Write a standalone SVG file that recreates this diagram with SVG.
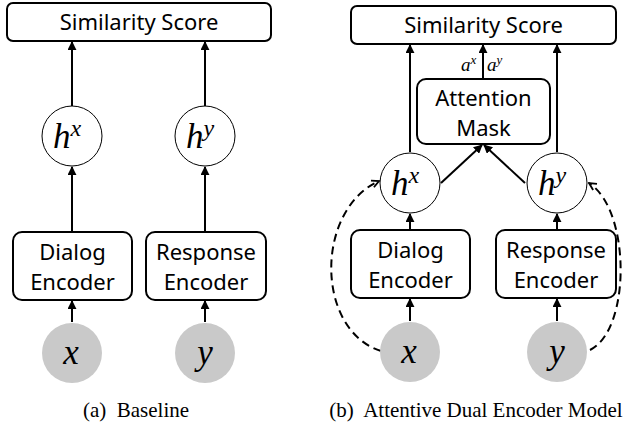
<svg xmlns="http://www.w3.org/2000/svg" width="623" height="423" viewBox="0 0 623 423">
<style>
.box{fill:#fff;stroke:#000;stroke-width:2}
.hc{fill:#fff;stroke:#000;stroke-width:1}
.gc{fill:#c9c9c9;stroke:none}
.lbl{font-family:"Noto Sans",sans-serif;font-size:22px;text-anchor:middle;fill:#000}
.math{font-family:"Liberation Serif",serif;font-style:italic;fill:#000}
.cap{font-family:"Liberation Serif",serif;font-size:21px;text-anchor:middle;fill:#000}
.ar{stroke:#000;stroke-width:2;fill:none;marker-end:url(#ah)}
.da{stroke:#000;stroke-width:2;fill:none;stroke-dasharray:8 5;marker-end:url(#oh)}
</style>
<defs>
<marker id="ah" viewBox="0 0 10 10" refX="9" refY="5" markerWidth="4.5" markerHeight="4.5" orient="auto" markerUnits="strokeWidth">
<path d="M0,0 L10,5 L0,10 z" fill="#000"/>
</marker>
<marker id="oh" viewBox="0 0 10 10" refX="9" refY="5" markerWidth="4.5" markerHeight="4.5" orient="auto" markerUnits="strokeWidth">
<path d="M1,1 L9,5 L1,9" fill="none" stroke="#000" stroke-width="2"/>
</marker>
</defs>
<rect width="623" height="423" fill="#fff"/>

<g id="connectors">
<line class="ar" x1="72" y1="106" x2="72" y2="42"/>
<line class="ar" x1="205" y1="106" x2="205" y2="42"/>
<line class="ar" x1="72" y1="231" x2="72" y2="167"/>
<line class="ar" x1="205" y1="231" x2="205" y2="167"/>
<line class="ar" x1="72" y1="322" x2="72" y2="301"/>
<line class="ar" x1="205" y1="322" x2="205" y2="301"/>

<line class="ar" x1="410" y1="152" x2="410" y2="45"/>
<line class="ar" x1="483" y1="78" x2="483" y2="45"/>
<line class="ar" x1="557" y1="152" x2="557" y2="45"/>
<line class="ar" x1="441" y1="183" x2="482" y2="145"/>
<line class="ar" x1="525" y1="183" x2="484" y2="145"/>
<line class="ar" x1="410" y1="229" x2="410" y2="214"/>
<line class="ar" x1="557" y1="229" x2="557" y2="214"/>
<line class="ar" x1="410" y1="321" x2="410" y2="299"/>
<line class="ar" x1="557" y1="321" x2="557" y2="299"/>
<path class="da" d="M381,351 C315,330 315,210 379,181"/>
<path class="da" d="M590,350 C631,330 631,210 589,183"/>
<text class="math" x="461" y="71" font-size="19">a<tspan font-size="13" dy="-7">x</tspan></text>
<text class="math" x="487" y="71" font-size="19">a<tspan font-size="13" dy="-7">y</tspan></text>
</g>

<g id="sim-a">
<rect class="box" x="7" y="3" width="264" height="38" rx="6"/>
<text class="lbl" x="139" y="30">Similarity Score</text>
</g>
<g id="hx-a">
<circle class="hc" cx="72" cy="136" r="30"/>
<text class="math" x="53" y="148" font-size="35">h<tspan font-size="24" dy="-12">x</tspan></text>
</g>
<g id="hy-a">
<circle class="hc" cx="205" cy="136" r="30"/>
<text class="math" x="186" y="148" font-size="35">h<tspan font-size="24" dy="-12">y</tspan></text>
</g>
<g id="dialog-a">
<rect class="box" x="13" y="232" width="119" height="68" rx="9"/>
<text class="lbl" x="72.5" y="260">Dialog</text>
<text class="lbl" x="72.5" y="290">Encoder</text>
</g>
<g id="response-a">
<rect class="box" x="146" y="232" width="120" height="68" rx="9"/>
<text class="lbl" x="206" y="260">Response</text>
<text class="lbl" x="206" y="290">Encoder</text>
</g>
<g id="x-a">
<circle class="gc" cx="72" cy="353" r="30"/>
<text class="math" x="71" y="364" font-size="35" text-anchor="middle">x</text>
</g>
<g id="y-a">
<circle class="gc" cx="205" cy="353" r="30"/>
<text class="math" x="205" y="364" font-size="35" text-anchor="middle">y</text>
</g>
<text class="cap" x="136" y="417">(a)&#160; Baseline</text>

<g id="sim-b">
<rect class="box" x="351" y="6" width="265" height="38" rx="6"/>
<text class="lbl" x="483.5" y="33">Similarity Score</text>
</g>
<g id="attn-b">
<rect class="box" x="417" y="79" width="133" height="65" rx="9"/>
<text class="lbl" x="483.5" y="106">Attention</text>
<text class="lbl" x="483.5" y="136">Mask</text>
</g>
<g id="hx-b">
<circle class="hc" cx="410" cy="183" r="30"/>
<text class="math" x="391" y="195" font-size="35">h<tspan font-size="24" dy="-12">x</tspan></text>
</g>
<g id="hy-b">
<circle class="hc" cx="557" cy="183" r="30"/>
<text class="math" x="538" y="195" font-size="35">h<tspan font-size="24" dy="-12">y</tspan></text>
</g>
<g id="dialog-b">
<rect class="box" x="351" y="230" width="119" height="68" rx="9"/>
<text class="lbl" x="410.5" y="258">Dialog</text>
<text class="lbl" x="410.5" y="288">Encoder</text>
</g>
<g id="response-b">
<rect class="box" x="496" y="230" width="120" height="68" rx="9"/>
<text class="lbl" x="556" y="258">Response</text>
<text class="lbl" x="556" y="288">Encoder</text>
</g>
<g id="x-b">
<circle class="gc" cx="410" cy="352" r="30"/>
<text class="math" x="409" y="363" font-size="35" text-anchor="middle">x</text>
</g>
<g id="y-b">
<circle class="gc" cx="557" cy="352" r="30"/>
<text class="math" x="557" y="363" font-size="35" text-anchor="middle">y</text>
</g>
<text class="cap" x="476" y="417">(b)&#160; Attentive Dual Encoder Model</text>
</svg>
